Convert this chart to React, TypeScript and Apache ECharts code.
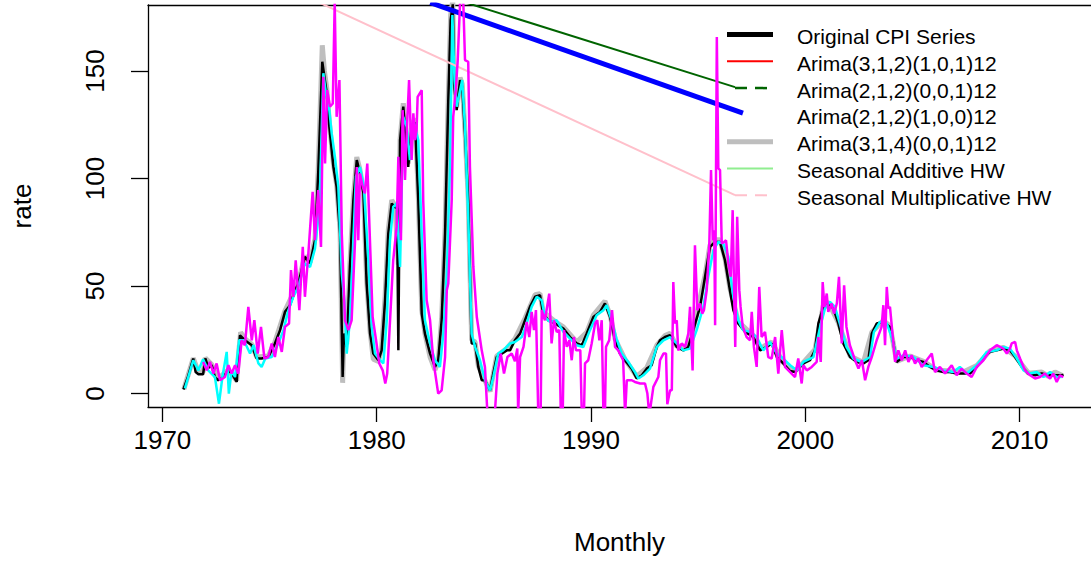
import React, { useEffect, useRef } from "react";
import * as echarts from "echarts";

// ---- Data ----
const xTicks = [1970, 1980, 1990, 2000, 2010];
const yTicks = [0, 50, 100, 150];

// Original CPI series [year, rate]
const originalCPI: [number, number][] = [
  [1970.98,1.9],[1971.2,8],[1971.44,16.3],[1971.55,10],[1971.68,9],[1971.9,9],[1972.0,16.4],[1972.15,12],[1972.3,13.2],[1972.45,7.7],[1972.6,6.2],[1972.84,7.7],[1973.07,10.8],[1973.23,9.4],[1973.47,5.4],[1973.51,14],[1973.62,27.1],[1973.85,24.8],[1974.17,22.5],[1974.4,16.3],[1974.63,16.3],[1974.94,17],[1975.25,23.3],[1975.49,29.5],[1975.72,38],[1975.95,41],[1976.19,48],[1976.34,51.2],[1976.65,63.6],[1976.89,60.5],[1977.12,71.3],[1977.27,102.4],[1977.46,154.3],[1977.56,147.3],[1977.67,139.6],[1977.79,124],[1977.98,105.4],[1978.13,96.1],[1978.29,74.4],[1978.41,7.7],[1978.47,27.9],[1978.6,21.7],[1978.75,58.9],[1978.91,89.9],[1979.07,108.6],[1979.22,102.4],[1979.38,93.1],[1979.53,51.2],[1979.69,27.9],[1979.84,18.6],[1980.08,15.5],[1980.23,20.1],[1980.39,43.4],[1980.54,74.4],[1980.7,88.4],[1980.85,86.8],[1980.95,86],[1981.01,20.1],[1981.09,117.9],[1981.24,133.4],[1981.47,105.4],[1981.63,124],[1981.79,126],[1981.94,90],[1982.1,37.2],[1982.25,27.9],[1982.49,18.6],[1982.72,12.4],[1982.87,15.5],[1983.03,34.1],[1983.19,74.4],[1983.34,136.5],[1983.45,173.7],[1983.55,181],[1983.61,144.3],[1983.73,131.8],[1983.89,145.8],[1983.99,142.7],[1984.12,121],[1984.27,90],[1984.43,23.3],[1984.59,23.3],[1984.74,12.4],[1984.9,6.2],[1985.05,6.2],[1985.29,1.5],[1985.44,9.3],[1985.6,17],[1985.83,18.6],[1986.07,20.1],[1986.22,20.1],[1986.45,24.8],[1986.69,27.9],[1986.92,34.1],[1987.15,40.3],[1987.39,45],[1987.62,45.7],[1987.77,37.2],[1988.0,34.1],[1988.32,32.6],[1988.71,30.2],[1989.02,26.3],[1989.33,23.3],[1989.57,22.5],[1989.8,27.9],[1990.11,35.6],[1990.42,38],[1990.65,41.9],[1990.89,35.6],[1991.12,24.8],[1991.35,18.6],[1991.58,15.5],[1991.9,11.6],[1992.13,7],[1992.37,8.5],[1992.6,11.6],[1992.83,13.2],[1993.07,21.7],[1993.22,24.8],[1993.45,26.3],[1993.69,27.1],[1994.0,21.7],[1994.31,20.1],[1994.54,21.7],[1994.77,29.5],[1995.09,40.3],[1995.32,54.3],[1995.55,68.2],[1995.79,70.5],[1996.02,70.5],[1996.25,62],[1996.48,48.1],[1996.64,38.8],[1996.87,32.6],[1997.19,28.7],[1997.57,26.3],[1997.89,20.1],[1998.2,21.7],[1998.43,23.3],[1998.67,17],[1998.97,14],[1999.29,10.5],[1999.52,10],[1999.75,12.4],[1999.91,14],[2000.22,15.5],[2000.45,20.1],[2000.61,32.6],[2000.84,40.3],[2001.07,41.9],[2001.31,39.6],[2001.54,32.6],[2001.77,23.3],[2002.09,17],[2002.4,14.7],[2002.71,14],[2002.94,15.5],[2003.1,27.9],[2003.33,32.6],[2003.64,33.3],[2003.95,31],[2004.11,23.3],[2004.26,14.7],[2004.57,17],[2004.89,17],[2005.2,15.5],[2005.51,14.7],[2005.82,12.4],[2006.13,10.8],[2006.44,10],[2006.75,10],[2007.06,9.3],[2007.37,9.3],[2007.68,9.3],[2008.0,12.4],[2008.31,17],[2008.62,19.4],[2008.93,20.1],[2009.24,20.9],[2009.55,20.1],[2009.79,17],[2010.1,12.4],[2010.41,9.3],[2010.72,8.5],[2011.03,9.3],[2011.34,8.5],[2011.65,8.5],[2011.96,8.5],[2012.05,8.8]
];

// Arima(3,1,4)(0,0,1)12 fitted values (grey)
const arima314Fit: [number, number][] = [
  [1971.0,2],[1971.44,16.5],[1971.68,10],[1971.9,10],[1972.0,16.6],[1972.3,13.5],[1972.6,7],[1973.07,11],[1973.47,6],[1973.55,18],[1973.65,28.5],[1973.85,25.5],[1974.17,23],[1974.4,17],[1974.94,17.5],[1975.25,24],[1975.72,38.5],[1976.19,48.5],[1976.34,52],[1976.65,64],[1976.89,61],[1977.12,72],[1977.27,104],[1977.46,162],[1977.56,150],[1977.67,142],[1977.79,126],[1977.98,107],[1978.13,97],[1978.29,76],[1978.41,5],[1978.47,28],[1978.6,23],[1978.75,60],[1978.91,91],[1979.07,110],[1979.22,104],[1979.38,94],[1979.53,53],[1979.69,29],[1979.84,16],[1980.08,15],[1980.23,21],[1980.39,45],[1980.54,76],[1980.7,90],[1980.85,87.5],[1981.01,60],[1981.09,118],[1981.24,135],[1981.47,107],[1981.63,125],[1981.79,128],[1981.94,92],[1982.1,39],[1982.25,28],[1982.49,17],[1982.72,11],[1982.87,15],[1983.03,35],[1983.19,76],[1983.34,138],[1983.45,176],[1983.55,183],[1983.61,146],[1983.73,133],[1983.89,147],[1983.99,144],[1984.12,122],[1984.27,91],[1984.43,25],[1984.59,24],[1984.74,13],[1985.05,6],[1985.29,1],[1985.44,9],[1985.6,17.5],[1986.07,21],[1986.45,25.5],[1986.92,35],[1987.39,46],[1987.62,46.5],[1987.77,38],[1988.32,33.5],[1988.71,31],[1989.33,24],[1989.8,28.5],[1990.11,36.5],[1990.65,43],[1990.89,36.5],[1991.12,25.5],[1991.58,16],[1992.13,8],[1992.6,12],[1993.07,22.5],[1993.45,27],[1993.69,28],[1994.0,22],[1994.54,22],[1994.77,30],[1995.32,55],[1995.55,69],[1995.79,71.5],[1996.02,71.5],[1996.25,63],[1996.48,49],[1996.87,33.5],[1997.57,27],[1997.89,21],[1998.43,24],[1998.97,14.5],[1999.52,10.5],[1999.91,14.5],[2000.45,20.5],[2000.84,41],[2001.07,42.5],[2001.54,33],[2002.09,17.5],[2002.71,14.5],[2003.1,28.5],[2003.64,34],[2003.95,31.5],[2004.26,15],[2004.89,17.5],[2005.51,15],[2006.13,11],[2006.75,10.5],[2007.37,10],[2008.0,13],[2008.62,20],[2009.24,21.5],[2009.79,17.5],[2010.41,9.5],[2011.03,10],[2011.34,8],[2011.65,10],[2011.96,8.5]
];

// cyan fitted series
const cyanFit: [number, number][] = [
  [1971.05,2.4],[1971.44,15.5],[1971.68,10.8],[1971.9,16],[1972.14,10.8],[1972.45,7.7],[1972.64,-4.7],[1972.8,7.7],[1973.0,19.4],[1973.1,0],[1973.23,10.8],[1973.39,7.7],[1973.58,24.8],[1973.8,24.8],[1974.09,18.6],[1974.25,22.5],[1974.48,14],[1974.63,12.4],[1974.8,16.3],[1975.1,17],[1975.41,23.3],[1975.65,29.5],[1975.88,38.8],[1976.11,45],[1976.34,49.6],[1976.65,60.5],[1976.89,58.9],[1977.12,67.4],[1977.33,86.8],[1977.51,149],[1977.63,139.6],[1977.79,131.8],[1977.9,121],[1978.05,110.1],[1978.21,96.1],[1978.37,55.8],[1978.49,43.4],[1978.6,18.6],[1978.75,34.1],[1978.91,71.3],[1979.03,100.8],[1979.22,105.4],[1979.4,96.1],[1979.61,62],[1979.77,31],[1979.92,18.6],[1980.16,15.5],[1980.31,14],[1980.47,34.1],[1980.62,71.3],[1980.77,86.8],[1980.93,88.4],[1981.09,58.9],[1981.24,128.7],[1981.4,124],[1981.55,108.6],[1981.71,127.2],[1981.94,117.9],[1982.1,74.4],[1982.25,34.1],[1982.49,23.3],[1982.72,15.5],[1982.95,12.4],[1983.11,27.9],[1983.27,55.8],[1983.42,105.4],[1983.53,176],[1983.63,145.8],[1983.73,133.4],[1983.89,141.1],[1983.99,145.8],[1984.12,124],[1984.27,82.2],[1984.43,27.9],[1984.59,21.7],[1984.82,15.5],[1985.05,6.2],[1985.29,1.5],[1985.44,7.7],[1985.67,18.6],[1985.9,20.1],[1986.22,23.3],[1986.45,24],[1986.77,26.3],[1987.0,32.6],[1987.23,40.3],[1987.47,45],[1987.7,43.4],[1987.85,35.6],[1988.08,33.3],[1988.4,34.1],[1988.71,28.7],[1989.02,25.6],[1989.33,22.5],[1989.64,21.7],[1989.95,29.5],[1990.26,36.4],[1990.58,38.8],[1990.73,41.1],[1990.96,34.1],[1991.19,25.6],[1991.43,18.6],[1991.74,14.7],[1992.05,10],[1992.21,7],[1992.44,8.5],[1992.75,11.6],[1993.07,21.7],[1993.38,24.8],[1993.69,26.3],[1994.0,23.3],[1994.31,20.1],[1994.62,20.9],[1994.93,29.5],[1995.24,40.3],[1995.47,54.3],[1995.71,66.7],[1995.94,70.5],[1996.17,69.8],[1996.41,63.6],[1996.64,45],[1996.87,34.1],[1997.1,29.5],[1997.42,28.7],[1997.73,26.3],[1998.04,20.1],[1998.35,24],[1998.67,18.6],[1998.97,16.3],[1999.29,13.2],[1999.6,10.8],[1999.91,14.7],[2000.38,17],[2000.69,31],[2000.92,39.6],[2001.15,42.7],[2001.38,40.3],[2001.7,29.5],[2001.92,21.7],[2002.24,16.3],[2002.63,14.7],[2003.02,17],[2003.2,28.7],[2003.48,33.3],[2003.8,32.6],[2004.03,26.3],[2004.26,16.3],[2004.57,17.8],[2005.04,17],[2005.51,13.2],[2005.98,12.4],[2006.44,10.8],[2006.9,10],[2007.21,12.4],[2007.53,9.3],[2008.0,13.2],[2008.47,19.4],[2008.93,20.1],[2009.24,21.7],[2009.55,20.9],[2009.87,16.3],[2010.18,10.8],[2010.49,9.3],[2010.8,10],[2011.11,7.7],[2011.42,10],[2011.73,7.7],[2011.96,7.7]
];

// magenta fitted series
const magentaFit: [number, number][] = [
  [1971.9,14.7],[1972.07,10.8],[1972.22,14.7],[1972.38,9.3],[1972.53,14],[1972.69,6.2],[1972.92,7.7],[1973.08,13.2],[1973.23,9.3],[1973.39,13.2],[1973.54,9.3],[1973.7,24.8],[1973.85,22.5],[1974.01,40.3],[1974.17,24.8],[1974.29,34.1],[1974.45,18.6],[1974.6,31],[1974.76,16.3],[1974.94,17],[1975.1,23.3],[1975.25,17],[1975.41,26.3],[1975.57,19.4],[1975.72,31],[1975.91,32.6],[1976.0,57.4],[1976.11,45],[1976.22,62],[1976.39,38.8],[1976.55,68.2],[1976.65,45],[1976.81,65.1],[1977.01,93.8],[1977.12,71.3],[1977.27,94.6],[1977.4,68.2],[1977.51,147.3],[1977.59,107],[1977.69,141.1],[1977.82,133.4],[1977.95,134.9],[1978.04,182],[1978.13,128.7],[1978.26,145.8],[1978.37,74.4],[1978.52,34.1],[1978.68,29.5],[1978.83,34.1],[1978.99,71.3],[1979.07,105.4],[1979.14,71.3],[1979.22,102.4],[1979.35,96.1],[1979.45,93.1],[1979.56,107],[1979.69,69.8],[1979.81,35.6],[1979.97,24.8],[1980.12,14],[1980.28,10.8],[1980.4,4.7],[1980.49,9.3],[1980.59,27.9],[1980.77,62],[1980.93,77.5],[1981.01,110.1],[1981.13,71.3],[1981.21,131.8],[1981.32,99.3],[1981.4,121],[1981.51,145.8],[1981.63,108.6],[1981.71,130.3],[1981.79,117.9],[1981.86,122.5],[1981.91,138],[1982.1,141.1],[1982.17,90],[1982.33,43.4],[1982.49,34.1],[1982.64,15.5],[1982.87,0],[1983.03,1.5],[1983.19,17],[1983.27,48.1],[1983.34,51.2],[1983.5,90],[1983.57,128.7],[1983.69,141.1],[1983.78,155.1],[1983.89,182],[1984.04,182],[1984.12,155.1],[1984.27,154.3],[1984.35,105.4],[1984.51,58.9],[1984.67,35.6],[1984.9,20.1],[1985.05,12.4],[1985.16,-8],[1985.52,-8],[1985.63,9.3],[1985.79,18.6],[1985.94,9.3],[1986.1,17],[1986.3,18.6],[1986.45,15],[1986.56,21],[1986.6,-10],[1986.69,17],[1986.85,21.7],[1987.0,33.3],[1987.12,26.3],[1987.23,38],[1987.34,29.5],[1987.43,38.8],[1987.54,-10],[1987.65,-10],[1987.7,38.8],[1987.85,34.1],[1988.05,46.5],[1988.16,23.3],[1988.27,34.1],[1988.4,28.7],[1988.52,29.5],[1988.59,-10],[1988.68,-10],[1988.74,29.5],[1988.87,21.7],[1988.99,24.8],[1989.1,15.5],[1989.2,26.3],[1989.3,20.1],[1989.5,20.1],[1989.57,-10],[1989.67,-10],[1989.72,14],[1989.87,15.5],[1990.03,23.3],[1990.19,32.6],[1990.29,34.1],[1990.39,24.8],[1990.5,34.1],[1990.58,-10],[1990.65,-10],[1990.7,21.7],[1990.85,24.8],[1990.98,38.8],[1991.12,21.7],[1991.27,20.1],[1991.5,15.5],[1991.59,-10],[1991.67,6.2],[1991.9,6.2],[1992.05,5.4],[1992.29,4.7],[1992.52,4.7],[1992.63,0],[1992.72,-10],[1992.91,3.1],[1993.14,7.7],[1993.22,15.5],[1993.38,18.6],[1993.5,18.6],[1993.56,-5],[1993.69,1.5],[1993.77,1.5],[1993.84,51.9],[1993.92,32.6],[1994.0,34.1],[1994.07,20.1],[1994.23,23.3],[1994.39,21.7],[1994.54,27.9],[1994.62,40.3],[1994.74,10.8],[1994.85,69],[1994.96,38.8],[1995.09,41.9],[1995.19,37.2],[1995.27,38.8],[1995.4,48.1],[1995.52,69.8],[1995.6,103.9],[1995.68,71.3],[1995.75,76],[1995.79,31.8],[1995.87,165.8],[1995.94,104.7],[1996.02,103.9],[1996.1,69.8],[1996.21,70.5],[1996.3,71.3],[1996.41,60.5],[1996.52,54.3],[1996.61,85.3],[1996.67,51.2],[1996.73,21.7],[1996.82,82.2],[1996.92,48.1],[1996.98,40.3],[1997.08,31],[1997.26,26.3],[1997.42,24.8],[1997.5,38],[1997.6,21.7],[1997.73,12.4],[1997.85,49.6],[1997.96,26.3],[1998.12,28.7],[1998.27,17],[1998.43,16.3],[1998.59,26.3],[1998.74,9.3],[1998.9,29.5],[1999.05,12.4],[1999.29,10],[1999.52,7.7],[1999.67,16.3],[1999.83,4.7],[1999.91,13.2],[2000.07,10.8],[2000.3,12.4],[2000.53,14.7],[2000.61,26.3],[2000.72,14.7],[2000.81,51.9],[2000.89,40.3],[2001.0,46.5],[2001.07,38],[2001.23,41.9],[2001.34,37.2],[2001.47,41.9],[2001.57,54.3],[2001.7,23.3],[2001.81,50.4],[2001.92,31],[2002.08,22.5],[2002.32,15.5],[2002.48,11.6],[2002.64,15.5],[2002.79,6.2],[2002.94,12.4],[2003.1,17],[2003.33,24.8],[2003.56,31],[2003.64,41.1],[2003.72,22.5],[2003.8,49.6],[2003.87,39.6],[2003.95,40.3],[2004.19,14.7],[2004.34,20.1],[2004.5,15.5],[2004.66,20.1],[2004.81,14.7],[2004.96,17.8],[2005.12,14],[2005.27,16.3],[2005.43,12.4],[2005.66,15.5],[2005.9,18.6],[2006.05,10],[2006.28,12.4],[2006.52,9.3],[2006.83,13.2],[2007.06,8.5],[2007.29,11.6],[2007.53,9.3],[2007.76,7.7],[2008.0,12.4],[2008.31,15.5],[2008.62,20.1],[2008.93,22.5],[2009.24,20.9],[2009.4,18.6],[2009.55,20.9],[2009.63,23.3],[2009.79,24],[2009.87,20.1],[2010.02,16.3],[2010.25,10.8],[2010.49,8.5],[2010.72,7],[2010.95,7.7],[2011.18,9.3],[2011.42,7],[2011.57,9.3],[2011.73,5.4],[2011.88,8.5],[2012.04,7.7]
];

// Forecast lines (straight segments)
const forecastMultHW: [number, number][] = [[1977.0, 183.3], [1996.72, 92.3]];
const forecastArima212_001: [number, number][] = [[1984.0, 182.3], [1996.72, 142.5]];
const forecastArima212_100: [number, number][] = [[1982.5, 181.8], [1997.09, 130.4]];

const legendLabels = [
  "Original CPI Series",
  "Arima(3,1,2)(1,0,1)12",
  "Arima(2,1,2)(0,0,1)12",
  "Arima(2,1,2)(1,0,0)12",
  "Arima(3,1,4)(0,0,1)12",
  "Seasonal Additive HW",
  "Seasonal Multiplicative HW",
];

const FONT = '"Liberation Sans", Arial, Helvetica, sans-serif';
const X_MIN = 1969.328;
const X_MAX = 2013.33;

const legendStyles: ({ color: string; width: number; dash?: number[] } | null)[] = [
  { color: "#000000", width: 5 },
  { color: "#FF0000", width: 2 },
  { color: "#006400", width: 2.5, dash: [12, 8] },
  null,
  { color: "#BEBEBE", width: 5 },
  { color: "#90EE90", width: 2 },
  { color: "#FFC0CB", width: 2, dash: [12, 8] },
];

export default function App() {
  const ref = useRef<HTMLDivElement>(null);
  useEffect(() => {
    if (!ref.current) return;
    const chart = echarts.init(ref.current, null, { renderer: "svg" });

    const graphic: any[] = [];
    legendLabels.forEach((label, i) => {
      const st = legendStyles[i];
      const ly = 34.5 + 26.8 * i;
      if (st) {
        graphic.push({
          type: "line",
          shape: { x1: 727, y1: ly, x2: 773, y2: ly },
          style: {
            stroke: st.color,
            lineWidth: st.width,
            lineDash: st.dash,
            lineDashOffset: st.dash ? 12 : 0,
          },
          silent: true,
        });
      }
      graphic.push({
        type: "text",
        x: 797,
        y: ly + 2,
        style: {
          text: label,
          fontSize: 21,
          fontFamily: FONT,
          fill: "#000",
          verticalAlign: "middle",
          align: "left",
        },
        silent: true,
      });
    });

    const line = (name: string, data: any, color: string, width: number) => ({
      name,
      type: "line",
      xAxisIndex: 0,
      yAxisIndex: 0,
      data,
      showSymbol: false,
      symbol: "none",
      silent: true,
      clip: true,
      lineStyle: { color, width },
    });

    const axisStroke = { color: "#000", width: 1.3 };

    chart.setOption({
      animation: false,
      grid: {
        left: 148,
        top: 5,
        right: 0,
        height: 402,
        show: false,
      },
      xAxis: [
        {
          type: "value",
          position: "bottom",
          min: X_MIN,
          max: X_MAX,
          name: "Monthly",
          nameLocation: "middle",
          nameGap: 122,
          nameTextStyle: { fontSize: 26, fontFamily: FONT, color: "#000" },
          axisLine: { show: true, onZero: false, lineStyle: axisStroke },
          splitLine: { show: false },
          axisTick: {
            show: true,
            inside: false,
            length: 15,
            customValues: xTicks,
            lineStyle: axisStroke,
          },
          axisLabel: {
            customValues: xTicks,
            fontSize: 26,
            fontFamily: FONT,
            color: "#000",
            margin: 20,
            formatter: (v: number) => String(v),
          },
        },
        {
          type: "value",
          position: "top",
          min: X_MIN,
          max: X_MAX,
          axisLine: { show: true, onZero: false, lineStyle: axisStroke },
          axisTick: { show: false },
          axisLabel: { show: false },
          splitLine: { show: false },
        },
      ],
      yAxis: {
        type: "value",
        min: -6.24,
        max: 180.7,
        name: "rate",
        nameLocation: "middle",
        nameGap: 113,
        nameTextStyle: { fontSize: 26, fontFamily: FONT, color: "#000" },
        axisLine: { show: true, onZero: false, lineStyle: axisStroke },
        splitLine: { show: false },
        axisTick: {
          show: true,
          inside: false,
          length: 17,
          customValues: yTicks,
          lineStyle: axisStroke,
        },
        axisLabel: {
          customValues: yTicks,
          rotate: 90,
          fontSize: 26,
          fontFamily: FONT,
          color: "#000",
          margin: 40,
          formatter: (v: number) => String(v),
        },
      },
      series: [
        line("Arima(3,1,4)(0,0,1)12", arima314Fit, "#BEBEBE", 5),
        line("Original CPI Series", originalCPI, "#000000", 2.5),
        line("Cyan fit", cyanFit, "#00FFFF", 2.5),
        line("Seasonal Multiplicative HW forecast", forecastMultHW, "#FFC0CB", 2),
        line("Arima(2,1,2)(0,0,1)12 forecast", forecastArima212_001, "#006400", 2),
        line("Arima(2,1,2)(1,0,0)12 forecast", forecastArima212_100, "#0000FF", 5),
        line("Magenta fit", magentaFit, "#FF00FF", 2.5),
      ],
      graphic,
    });
    return () => chart.dispose();
  }, []);
  return (
    <div
      ref={ref}
      style={{ position: "fixed", left: 0, top: 0, width: 1091, height: 565, background: "#fff" }}
    />
  );
}
